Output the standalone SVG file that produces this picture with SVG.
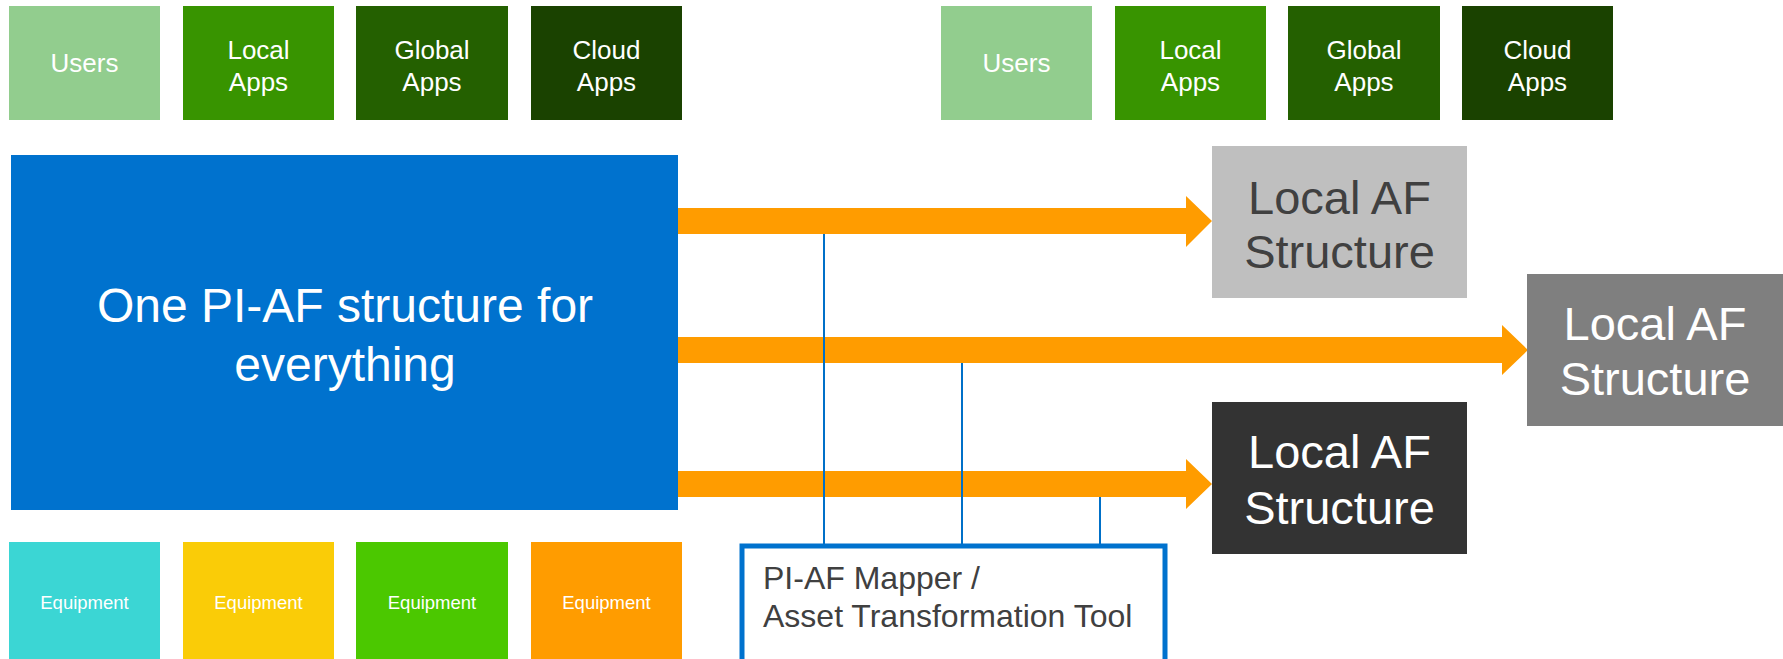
<svg xmlns="http://www.w3.org/2000/svg" width="1783" height="659" viewBox="0 0 1783 659">
<style>
text{font-family:"Liberation Sans",Arial,sans-serif;text-anchor:middle;}
.w{fill:#ffffff}
.sm{font-size:26px}
.eq{font-size:18.5px}
.af{font-size:47px}
.vl{stroke:#0070C8;stroke-width:2;fill:none}
.arr{fill:#FF9C00}
</style>
<rect width="1783" height="659" fill="#ffffff"/>
<g id="users-l"><rect x="9" y="6" width="151" height="114" fill="#92CD8E"/><text class="w sm" x="84.5" y="72">Users</text></g>
<g id="localapps-l"><rect x="183" y="6" width="151" height="114" fill="#389400"/><text class="w sm" x="258.5" y="59">Local</text><text class="w sm" x="258.5" y="91">Apps</text></g>
<g id="globalapps-l"><rect x="356" y="6" width="152" height="114" fill="#246000"/><text class="w sm" x="432" y="59">Global</text><text class="w sm" x="432" y="91">Apps</text></g>
<g id="cloudapps-l"><rect x="531" y="6" width="151" height="114" fill="#1A4200"/><text class="w sm" x="606.5" y="59">Cloud</text><text class="w sm" x="606.5" y="91">Apps</text></g>
<g id="users-r"><rect x="941" y="6" width="151" height="114" fill="#92CD8E"/><text class="w sm" x="1016.5" y="72">Users</text></g>
<g id="localapps-r"><rect x="1115" y="6" width="151" height="114" fill="#389400"/><text class="w sm" x="1190.5" y="59">Local</text><text class="w sm" x="1190.5" y="91">Apps</text></g>
<g id="globalapps-r"><rect x="1288" y="6" width="152" height="114" fill="#246000"/><text class="w sm" x="1364" y="59">Global</text><text class="w sm" x="1364" y="91">Apps</text></g>
<g id="cloudapps-r"><rect x="1462" y="6" width="151" height="114" fill="#1A4200"/><text class="w sm" x="1537.5" y="59">Cloud</text><text class="w sm" x="1537.5" y="91">Apps</text></g>
<g id="main"><rect x="11" y="155" width="667" height="355" fill="#0072CE"/><text class="w" style="font-size:48px" x="345" y="322">One PI-AF structure for</text><text class="w" style="font-size:48px" x="345" y="381">everything</text></g>
<g id="equip1"><rect x="9" y="542" width="151" height="117" fill="#3BD6D4"/><text class="w eq" x="84.5" y="609">Equipment</text></g>
<g id="equip2"><rect x="183" y="542" width="151" height="117" fill="#FACC07"/><text class="w eq" x="258.5" y="609">Equipment</text></g>
<g id="equip3"><rect x="356" y="542" width="152" height="117" fill="#4BC800"/><text class="w eq" x="432" y="609">Equipment</text></g>
<g id="equip4"><rect x="531" y="542" width="151" height="117" fill="#FF9C00"/><text class="w eq" x="606.5" y="609">Equipment</text></g>
<g id="connectors">
<polygon class="arr" points="678,208 1186,208 1186,196 1212,221 1186,247 1186,234 678,234"/>
<polygon class="arr" points="678,337 1502,337 1502,325 1528,350 1502,375 1502,363 678,363"/>
<polygon class="arr" points="678,471 1186,471 1186,459 1212,484 1186,509 1186,497 678,497"/>
<line class="vl" x1="824" y1="234" x2="824" y2="544"/>
<line class="vl" x1="962" y1="363" x2="962" y2="544"/>
<line class="vl" x1="1100" y1="497" x2="1100" y2="544"/>
</g>
<g id="af1"><rect x="1212" y="146" width="255" height="152" fill="#BFBFBF"/><text class="af" fill="#404040" x="1339.5" y="214">Local AF</text><text class="af" fill="#404040" x="1339.5" y="268">Structure</text></g>
<g id="af2"><rect x="1527" y="274" width="256" height="152" fill="#7F7F7F"/><text class="af w" x="1655" y="340">Local AF</text><text class="af w" x="1655" y="395">Structure</text></g>
<g id="af3"><rect x="1212" y="402" width="255" height="152" fill="#333333"/><text class="af w" x="1339.5" y="468">Local AF</text><text class="af w" x="1339.5" y="524">Structure</text></g>
<g id="mapper"><rect x="742" y="546" width="423" height="117" fill="#ffffff" stroke="#0072CE" stroke-width="5"/><text style="font-size:32px;text-anchor:start" fill="#404040" x="763" y="589">PI-AF Mapper /</text><text style="font-size:32px;text-anchor:start" fill="#404040" x="763" y="627">Asset Transformation Tool</text></g>
</svg>
